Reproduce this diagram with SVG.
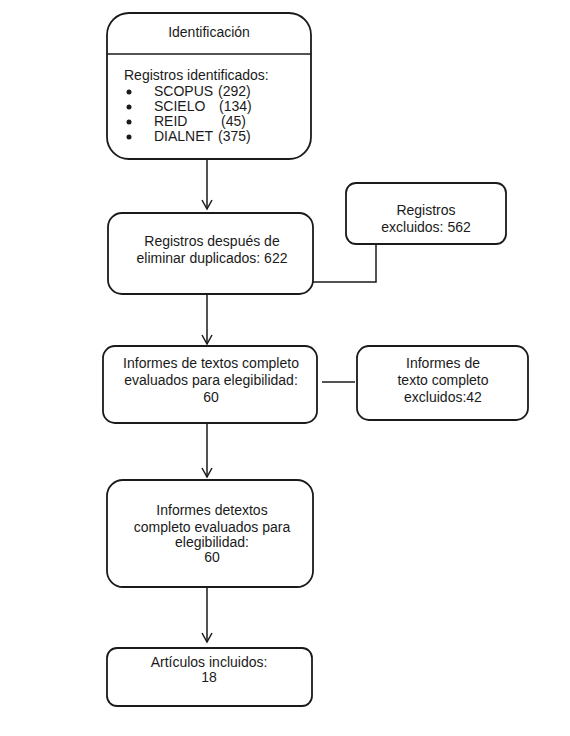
<svg xmlns="http://www.w3.org/2000/svg" width="570" height="736" viewBox="0 0 570 736">
<defs>
<style>
.box{fill:#fff;stroke:#1a1a1a;stroke-width:1.8}
.t{font-family:"Liberation Sans",Arial,sans-serif;font-size:14px;fill:#1a1a1a}
.c{text-anchor:middle}
.ln{fill:none;stroke:#1a1a1a;stroke-width:1.5}
</style>
<marker id="ah" markerWidth="12" markerHeight="12" refX="10" refY="6" orient="auto" markerUnits="userSpaceOnUse">
<path d="M1,1 L10,6 L1,11" fill="none" stroke="#1a1a1a" stroke-width="1.5"/>
</marker>
</defs>
<rect width="570" height="736" fill="#fff"/>
<g id="connectors">
<line class="ln" x1="207" y1="159" x2="207" y2="209" marker-end="url(#ah)"/>
<line class="ln" x1="207" y1="294" x2="207" y2="344" marker-end="url(#ah)"/>
<line class="ln" x1="207" y1="423" x2="207" y2="477" marker-end="url(#ah)"/>
<line class="ln" x1="207" y1="587" x2="207" y2="642" marker-end="url(#ah)"/>
<polyline class="ln" points="313,282 376,282 376,244"/>
<line class="ln" x1="322" y1="382" x2="355" y2="382"/>
</g>
<g id="identificacion">
<rect class="box" x="107" y="13" width="204" height="146" rx="22"/>
<line class="ln" x1="107" y1="54" x2="311" y2="54"/>
<text class="t c" x="209" y="37">Identificación</text>
<text class="t" x="124" y="80">Registros identificados:</text>
<circle cx="129" cy="92" r="2.5" fill="#1a1a1a"/>
<circle cx="129" cy="107" r="2.5" fill="#1a1a1a"/>
<circle cx="129" cy="122" r="2.5" fill="#1a1a1a"/>
<circle cx="129" cy="137" r="2.5" fill="#1a1a1a"/>
<text class="t" x="154" y="96">SCOPUS</text>
<text class="t" x="218" y="96">(292)</text>
<text class="t" x="154" y="111">SCIELO</text>
<text class="t" x="219" y="111">(134)</text>
<text class="t" x="154" y="126">REID</text>
<text class="t" x="221" y="126">(45)</text>
<text class="t" x="154" y="141">DIALNET</text>
<text class="t" x="218" y="141">(375)</text>
</g>
<g id="duplicados">
<rect class="box" x="108" y="213" width="205" height="81" rx="14"/>
<text class="t c" x="212" y="246">Registros después de</text>
<text class="t c" x="212" y="263">eliminar duplicados: 622</text>
</g>
<g id="excluidos1">
<rect class="box" x="346" y="183" width="160" height="61" rx="10"/>
<text class="t c" x="426" y="215">Registros</text>
<text class="t c" x="426" y="232">excluidos: 562</text>
</g>
<g id="evaluados1">
<rect class="box" x="103" y="346" width="214" height="77" rx="12"/>
<text class="t c" x="211" y="368">Informes de textos completo</text>
<text class="t c" x="211" y="385">evaluados para elegibilidad:</text>
<text class="t c" x="211" y="402">60</text>
</g>
<g id="excluidos2">
<rect class="box" x="357" y="346" width="171" height="74" rx="12"/>
<text class="t c" x="443" y="368">Informes de</text>
<text class="t c" x="443" y="385">texto completo</text>
<text class="t c" x="443" y="402">excluidos:42</text>
</g>
<g id="evaluados2">
<rect class="box" x="107" y="480" width="206" height="107" rx="16"/>
<text class="t c" x="212" y="515">Informes detextos</text>
<text class="t c" x="212" y="532">completo evaluados para</text>
<text class="t c" x="212" y="547">elegibilidad:</text>
<text class="t c" x="212" y="562">60</text>
</g>
<g id="incluidos">
<rect class="box" x="107" y="648" width="205" height="58" rx="10"/>
<text class="t c" x="209" y="667">Artículos incluidos:</text>
<text class="t c" x="209" y="682">18</text>
</g>
</svg>
